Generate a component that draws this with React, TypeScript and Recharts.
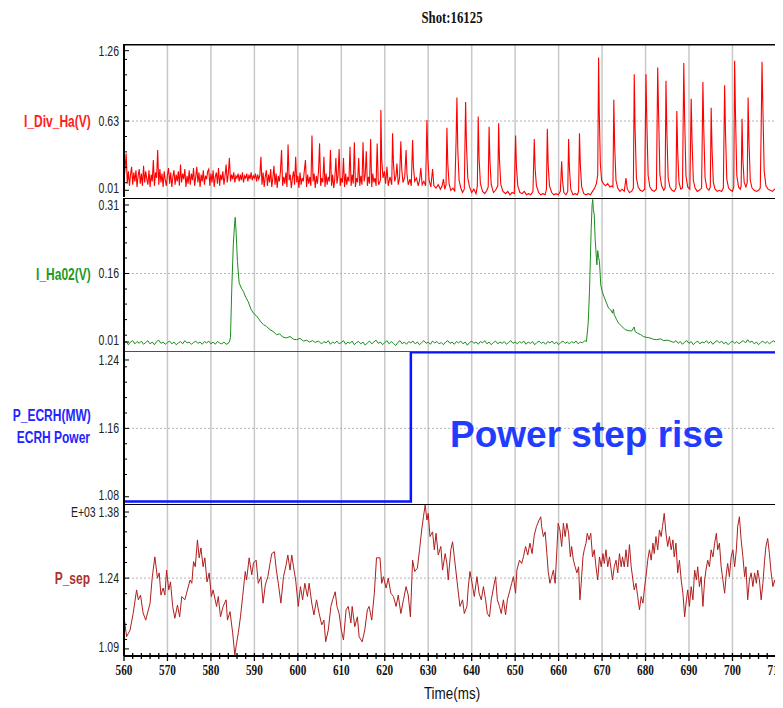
import React from 'react';
import { LineChart, Line, XAxis, YAxis, ReferenceLine } from 'recharts';

// ---------- data ----------
const xMajorTicks = [560, 570, 580, 590, 600, 610, 620, 630, 640, 650, 660, 670, 680, 690, 700, 710];

// I_Div_Ha(V): dense noisy band sampled every 0.25 ms from 560 to 618.5 ms
const divHaNoise = [
  0.10, 0.21, 0.34, 0.07, 0.18, 0.05, 0.15, 0.22, 0.06, 0.17,
  0.09, 0.19, 0.04, 0.14, 0.20, 0.07, 0.16, 0.05, 0.23, 0.08,
  0.18, 0.11, 0.06, 0.19, 0.04, 0.15, 0.09, 0.28, 0.05, 0.17,
  0.12, 0.37, 0.06, 0.20, 0.08, 0.16, 0.04, 0.18, 0.10, 0.05,
  0.15, 0.21, 0.07, 0.17, 0.04, 0.13, 0.19, 0.06, 0.15, 0.09,
  0.18, 0.05, 0.24, 0.08, 0.16, 0.11, 0.20, 0.04, 0.14, 0.07,
  0.19, 0.06, 0.16, 0.10, 0.21, 0.05, 0.13, 0.22, 0.08, 0.17,
  0.04, 0.15, 0.09, 0.19, 0.06, 0.14, 0.11, 0.18, 0.20, 0.05,
  0.16, 0.08, 0.19, 0.04, 0.13, 0.17, 0.07, 0.21, 0.05, 0.15,
  0.10, 0.18, 0.06, 0.14, 0.24, 0.08, 0.16, 0.30, 0.09, 0.15,
  0.11, 0.17, 0.08, 0.14, 0.12, 0.16, 0.09, 0.15, 0.10, 0.17,
  0.08, 0.14, 0.12, 0.16, 0.09, 0.15, 0.11, 0.17, 0.10, 0.14,
  0.12, 0.16, 0.09, 0.15, 0.11, 0.14, 0.31, 0.06, 0.17, 0.04,
  0.13, 0.19, 0.05, 0.15, 0.08, 0.20, 0.04, 0.12, 0.23, 0.06,
  0.16, 0.03, 0.14, 0.09, 0.18, 0.37, 0.05, 0.13, 0.07, 0.17,
  0.04, 0.42, 0.10, 0.15, 0.03, 0.12, 0.18, 0.06, 0.31, 0.08,
  0.14, 0.03, 0.17, 0.06, 0.12, 0.09, 0.19, 0.28, 0.04, 0.15,
  0.07, 0.13, 0.05, 0.50, 0.09, 0.16, 0.03, 0.14, 0.07, 0.18,
  0.43, 0.05, 0.12, 0.08, 0.31, 0.04, 0.16, 0.06, 0.13, 0.09,
  0.37, 0.05, 0.15, 0.03, 0.11, 0.30, 0.07, 0.14, 0.38, 0.05,
  0.12, 0.08, 0.30, 0.04, 0.16, 0.06, 0.13, 0.09, 0.40, 0.05,
  0.15, 0.07, 0.44, 0.04, 0.12, 0.08, 0.30, 0.05, 0.14, 0.06,
  0.44, 0.09, 0.15, 0.36, 0.05, 0.13, 0.07, 0.47, 0.04, 0.16,
  0.08, 0.12, 0.05, 0.43, 0.09,
];

// I_Div_Ha(V): ELM spikes and baseline after 618.5 ms  [time, value]
const divHaTail: [number, number][] = [
  [618.6, 0.06], [619.0, 0.10], [619.1, 0.73], [619.3, 0.28], [619.6, 0.12], [619.9, 0.18], [620.2, 0.07], [620.5, 0.22],
  [620.8, 0.05], [621.2, 0.13], [621.6, 0.06], [621.8, 0.52], [622.0, 0.25], [622.3, 0.09], [622.6, 0.14], [622.8, 0.25],
  [623.1, 0.06], [623.4, 0.12], [623.7, 0.45], [623.9, 0.20], [624.2, 0.08], [624.6, 0.13], [624.9, 0.37], [625.1, 0.16],
  [625.4, 0.06], [625.8, 0.11], [626.1, 0.05], [626.4, 0.46], [626.6, 0.22], [626.9, 0.09], [627.3, 0.12], [627.7, 0.05],
  [628.0, 0.10], [628.3, 0.21], [628.6, 0.06], [629.0, 0.09], [629.4, 0.05], [629.7, 0.64], [629.9, 0.30], [630.2, 0.10],
  [630.6, 0.04], [631.0, 0.20], [631.3, 0.05], [631.8, 0.03], [632.3, 0.06], [632.8, 0.02], [633.2, 0.05], [633.5, 0.11],
  [633.8, 0.02], [634.1, 0.06], [634.3, 0.57], [634.5, 0.25], [634.8, 0.07], [635.2, 0.01], [635.7, 0.03], [636.1, 0.0],
  [636.4, 0.44], [636.6, 0.84], [636.8, 0.38], [637.1, 0.10], [637.5, 0.03], [637.9, -0.01], [638.3, 0.02], [638.6, 0.80],
  [638.8, 0.42], [639.1, 0.12], [639.5, 0.04], [640.0, -0.01], [640.5, 0.02], [641.0, -0.02], [641.3, 0.05], [641.5, 0.67],
  [641.7, 0.30], [642.0, 0.07], [642.5, 0.0], [643.0, -0.02], [643.5, 0.01], [643.8, 0.04], [644.0, 0.58], [644.2, 0.27],
  [644.5, 0.06], [645.0, -0.01], [645.5, 0.01], [646.0, 0.05], [646.2, 0.61], [646.4, 0.28], [646.7, 0.06], [647.2, 0.0],
  [647.8, -0.02], [648.3, 0.0], [648.8, -0.03], [649.3, -0.01], [649.8, -0.02], [650.1, 0.50], [650.3, 0.22], [650.6, 0.05],
  [651.1, -0.01], [651.6, -0.02], [652.1, 0.0], [652.6, -0.03], [653.1, -0.02], [653.6, -0.03], [654.1, 0.0], [654.4, 0.47],
  [654.6, 0.20], [654.9, 0.05], [655.4, -0.01], [655.9, -0.03], [656.4, -0.02], [656.9, -0.03], [657.2, 0.02], [657.4, 0.56],
  [657.6, 0.24], [657.9, 0.05], [658.4, -0.01], [658.9, -0.03], [659.4, -0.02], [659.9, -0.03], [660.4, 0.0], [660.7, 0.27],
  [660.9, 0.10], [661.2, -0.01], [661.7, -0.03], [662.1, 0.0], [662.3, 0.47], [662.5, 0.20], [662.8, 0.02], [663.3, -0.03],
  [663.8, -0.02], [664.3, -0.03], [664.6, 0.0], [664.8, 0.52], [665.0, 0.24], [665.3, 0.04], [665.8, -0.02], [666.3, -0.03],
  [666.8, -0.02], [667.3, -0.03], [667.8, 0.0], [668.3, 0.03], [668.7, 0.07], [669.0, 0.15], [669.2, 1.20], [669.35, 0.72],
  [669.6, 0.25], [669.9, 0.10], [670.3, 0.07], [670.8, 0.05], [671.3, 0.07], [671.8, 0.04], [672.2, 0.05], [672.5, 0.04],
  [672.7, 0.82], [672.9, 0.40], [673.2, 0.10], [673.6, 0.03], [674.1, 0.0], [674.6, 0.02], [675.1, 0.0], [675.5, 0.12],
  [675.8, 0.02], [676.3, -0.01], [676.8, 0.0], [677.2, 0.03], [677.4, 1.05], [677.6, 0.55], [677.9, 0.12], [678.3, 0.04],
  [678.8, 0.01], [679.3, 0.0], [679.8, 0.02], [680.1, 1.05], [680.3, 0.62], [680.6, 0.14], [681.0, 0.04], [681.5, 0.01],
  [682.0, 0.0], [682.5, 0.02], [682.8, 1.11], [683.0, 0.70], [683.3, 0.15], [683.7, 0.05], [684.2, 0.01], [684.5, 0.03],
  [684.7, 0.99], [684.9, 0.55], [685.2, 0.12], [685.6, 0.04], [686.1, 0.01], [686.6, 0.0], [687.0, 0.03], [687.2, 0.72],
  [687.4, 0.35], [687.7, 0.08], [688.1, 0.02], [688.5, 0.03], [688.8, 1.15], [689.0, 0.65], [689.3, 0.14], [689.7, 0.04],
  [690.2, 0.02], [690.5, 0.83], [690.7, 0.45], [691.0, 0.10], [691.4, 0.03], [691.9, 0.0], [692.4, 0.01], [692.9, 0.03],
  [693.2, 0.98], [693.4, 0.55], [693.7, 0.12], [694.1, 0.03], [694.6, 0.01], [694.9, 0.04], [695.1, 0.75], [695.3, 0.38],
  [695.6, 0.08], [696.0, 0.02], [696.5, 0.0], [697.0, 0.01], [697.5, 0.0], [697.9, 0.03], [698.2, 0.95], [698.4, 0.52],
  [698.7, 0.11], [699.1, 0.03], [699.6, 0.01], [700.0, 0.0], [700.3, 0.04], [700.5, 1.17], [700.7, 0.68], [701.0, 0.14],
  [701.4, 0.04], [701.8, 0.02], [702.0, 0.05], [702.2, 0.65], [702.4, 0.28], [702.7, 0.08], [703.1, 0.04], [703.4, 0.08],
  [703.6, 0.84], [703.8, 0.45], [704.1, 0.10], [704.5, 0.03], [705.0, 0.01], [705.5, 0.0], [706.0, 0.01], [706.4, 0.03],
  [706.6, 0.55], [706.8, 1.16], [707.0, 0.75], [707.3, 0.18], [707.7, 0.05], [708.2, 0.02], [708.7, 0.01], [709.2, 0.0],
  [709.7, 0.02], [710.2, 0.01], [710.6, 0.04], [710.8, 0.40], [711.0, 1.30], [711.2, 0.90], [711.5, 0.30], [711.8, 0.10],
  [712.3, 0.05], [713.0, 0.03], [714.0, 0.02],
];

// I_Ha02(V)  [time, value]
const ha02Series: [number, number][] = [
  [560, 0.006], [560.5, 0.012], [561, 0.004], [561.5, 0.010], [562, 0.013], [562.5, 0.006], [563, 0.011], [563.5, 0.007],
  [564, 0.012], [564.5, 0.005], [565, 0.009], [565.5, 0.013], [566, 0.006], [566.5, 0.010], [567, 0.004], [567.5, 0.011],
  [568, 0.014], [568.5, 0.007], [569, 0.010], [569.5, 0.005], [570, 0.009], [570.5, 0.012], [571, 0.006], [571.5, 0.010],
  [572, 0.004], [572.5, 0.008], [573, 0.011], [573.5, 0.006], [574, 0.013], [574.5, 0.008], [575, 0.010], [575.5, 0.005],
  [576, 0.009], [576.5, 0.012], [577, 0.007], [577.5, 0.010], [578, 0.005], [578.5, 0.011], [579, 0.008], [579.5, 0.012],
  [580, 0.006], [580.5, 0.010], [581, 0.005], [581.5, 0.011], [582, 0.008], [582.5, 0.006], [583, 0.010], [583.5, 0.005],
  [584, 0.007], [584.3, 0.012],
  [584.5, 0.02], [584.8, 0.128], [585.15, 0.223], [585.45, 0.27], [585.6, 0.283], [585.8, 0.25], [586.1, 0.186], [586.5, 0.139],
  [587.0, 0.128], [587.5, 0.12], [588.0, 0.108], [588.6, 0.098], [589.2, 0.082], [589.8, 0.073], [590.4, 0.068], [590.9, 0.062],
  [591.5, 0.054], [592.1, 0.048], [592.8, 0.044], [593.6, 0.037], [594.3, 0.033], [595.1, 0.026], [595.8, 0.028], [596.5, 0.021],
  [597.4, 0.019], [598.2, 0.022], [599.0, 0.016], [599.7, 0.015], [600.5, 0.018], [601.3, 0.012], [602, 0.014], [602.7, 0.010],
  [603.4, 0.013], [604, 0.009], [604.7, 0.012],
  [605.5, 0.006], [606, 0.011], [606.5, 0.008], [607, 0.013], [607.5, 0.005], [608, 0.010], [608.5, 0.007], [609, 0.012],
  [609.5, 0.006], [610, 0.009], [610.5, 0.013], [611, 0.005], [611.5, 0.010], [612, 0.007], [612.5, 0.012], [613, 0.004],
  [613.5, 0.009], [614, 0.011], [614.5, 0.006], [615, 0.010], [615.5, 0.003], [616, 0.008], [616.5, 0.012], [617, 0.006],
  [617.5, 0.010], [618, 0.014], [618.5, 0.007], [619, 0.010], [619.5, 0.004], [620, 0.009], [620.5, 0.013], [621, 0.006],
  [621.5, 0.011], [622, 0.007], [622.5, 0.002], [623, 0.009], [623.5, 0.013], [624, 0.006], [624.5, 0.010], [625, 0.005],
  [625.5, 0.011], [626, 0.008], [626.5, 0.012], [627, 0.006], [627.5, 0.010], [628, 0.004], [628.5, 0.009], [629, 0.013],
  [629.5, 0.007], [630, 0.010], [630.5, 0.005], [631, 0.012], [631.5, 0.008], [632, 0.011], [632.5, 0.006], [633, 0.009],
  [633.5, 0.004], [634, 0.010], [634.5, 0.013], [635, 0.007], [635.5, 0.010], [636, 0.005], [636.5, 0.011], [637, 0.008],
  [637.5, 0.012], [638, 0.006], [638.5, 0.010], [639, 0.003], [639.5, 0.009], [640, 0.012], [640.5, 0.007], [641, 0.010],
  [641.5, 0.005], [642, 0.011], [642.5, 0.008], [643, 0.013], [643.5, 0.006], [644, 0.010], [644.5, 0.004], [645, 0.009],
  [645.5, 0.012], [646, 0.006], [646.5, 0.010], [647, 0.007], [647.5, 0.011], [648, 0.005], [648.5, 0.009], [649, 0.013],
  [649.5, 0.007], [650, 0.010], [650.5, 0.006], [651, 0.011], [651.5, 0.008], [652, 0.012], [652.5, 0.005], [653, 0.010],
  [653.5, 0.007], [654, 0.011], [654.5, 0.004], [655, 0.009], [655.5, 0.012], [656, 0.007], [656.5, 0.010], [657, 0.005],
  [657.5, 0.011], [658, 0.008], [658.5, 0.012], [659, 0.006], [659.5, 0.010], [660, 0.004], [660.5, 0.009], [661, 0.012],
  [661.5, 0.007], [662, 0.010], [662.5, 0.006], [663, 0.011], [663.5, 0.008], [664, 0.012], [664.5, 0.006], [665, 0.010],
  [665.5, 0.008], [666, 0.013], [666.4, 0.011],
  [666.8, 0.05], [667.1, 0.12], [667.3, 0.19], [667.5, 0.259], [667.7, 0.31], [667.85, 0.322], [668.0, 0.30], [668.2, 0.288],
  [668.4, 0.237], [668.8, 0.179], [669.0, 0.21], [669.2, 0.195], [669.4, 0.186], [669.7, 0.135], [670.0, 0.122], [670.3, 0.113],
  [670.9, 0.098], [671.5, 0.084], [672.0, 0.080], [672.4, 0.073], [672.6, 0.082], [672.8, 0.070], [673.3, 0.060], [673.8, 0.051],
  [674.5, 0.045], [675.3, 0.037], [676.0, 0.035], [676.8, 0.034], [677.4, 0.043], [677.6, 0.033], [678.2, 0.029], [678.9, 0.026],
  [679.5, 0.022], [680.3, 0.020], [681.0, 0.019], [681.8, 0.016], [682.6, 0.015], [683.4, 0.017], [684.2, 0.013], [685.0, 0.014],
  [685.7, 0.012],
  [686.5, 0.009], [687, 0.013], [687.5, 0.007], [688, 0.011], [688.5, 0.005], [689, 0.010], [689.5, 0.013], [690, 0.007],
  [690.5, 0.011], [691, 0.004], [691.5, 0.009], [692, 0.012], [692.5, 0.006], [693, 0.010], [693.5, 0.008], [694, 0.013],
  [694.5, 0.007], [695, 0.011], [695.5, 0.005], [696, 0.010], [696.5, 0.013], [697, 0.008], [697.5, 0.012], [698, 0.006],
  [698.5, 0.010], [699, 0.004], [699.5, 0.009], [700, 0.012], [700.5, 0.007], [701, 0.011], [701.5, 0.006], [702, 0.010],
  [702.5, 0.013], [703, 0.008], [703.5, 0.015], [704, 0.009], [704.5, 0.012], [705, 0.006], [705.5, 0.010], [706, 0.004],
  [706.5, 0.009], [707, 0.012], [707.5, 0.007], [708, 0.011], [708.5, 0.006], [709, 0.010], [709.5, 0.013], [710, 0.007],
  [710.5, 0.011], [711, 0.008], [711.5, 0.013], [712, 0.009], [713, 0.011], [714, 0.008],
];

// P_ECRH(MW)  [time, value]
const ecrhSeries: [number, number][] = [
  [560, 1.0745], [626.0, 1.0745], [626.0, 1.249], [716, 1.249],
];

// P_sep (E+03)  [time, value]
const psepSeries: [number, number][] = [
  [560, 1.158], [560.6, 1.116], [561.4, 1.130], [562.1, 1.165], [562.9, 1.215], [563.3, 1.194], [563.8, 1.204], [564.4, 1.166],
  [565.0, 1.151], [566.0, 1.187], [566.5, 1.242], [567.1, 1.285], [567.7, 1.240], [568.1, 1.251], [568.5, 1.204], [569.0, 1.219],
  [569.4, 1.204], [569.8, 1.257], [570.3, 1.215], [570.7, 1.232], [571.2, 1.180], [571.7, 1.155], [572.3, 1.183], [572.8, 1.158],
  [573.3, 1.201], [574.0, 1.194], [574.4, 1.208], [575.2, 1.236], [575.6, 1.229], [576.0, 1.275], [576.4, 1.264], [576.9, 1.321],
  [577.3, 1.283], [577.7, 1.304], [578.2, 1.264], [578.6, 1.283], [579.1, 1.232], [579.6, 1.251], [580.1, 1.201], [580.5, 1.215],
  [581.3, 1.180], [581.7, 1.201], [582.2, 1.158], [582.8, 1.180], [583.5, 1.194], [583.8, 1.151], [584.4, 1.169], [585.0, 1.124],
  [585.5, 1.077], [585.9, 1.102], [586.3, 1.124], [586.8, 1.158], [587.3, 1.201], [587.9, 1.254], [588.2, 1.236], [588.8, 1.283],
  [589.4, 1.247], [589.8, 1.272], [590.4, 1.278], [590.9, 1.229], [591.5, 1.243], [592.0, 1.187], [592.5, 1.225], [593.1, 1.243],
  [593.6, 1.271], [594.0, 1.292], [594.6, 1.296], [595.0, 1.261], [595.5, 1.229], [596.1, 1.187], [596.7, 1.243], [597.3, 1.268],
  [597.7, 1.289], [598.2, 1.257], [598.6, 1.289], [599.0, 1.264], [599.5, 1.236], [600.1, 1.180], [600.6, 1.222], [601.1, 1.194],
  [601.6, 1.229], [602.2, 1.201], [602.6, 1.229], [603.2, 1.187], [603.7, 1.162], [604.3, 1.194], [604.9, 1.165], [605.5, 1.141],
  [606.0, 1.151], [606.4, 1.105], [607.0, 1.130], [607.6, 1.180], [608.0, 1.194], [608.6, 1.211], [609.0, 1.180], [609.5, 1.165],
  [610.0, 1.130], [610.5, 1.109], [611.1, 1.173], [611.6, 1.180], [612.2, 1.145], [612.5, 1.180], [613.1, 1.137], [613.7, 1.158],
  [614.1, 1.116], [614.8, 1.105], [615.4, 1.130], [616.0, 1.173], [616.4, 1.180], [617.0, 1.151], [617.6, 1.208], [618.1, 1.283],
  [618.9, 1.283], [619.3, 1.229], [619.7, 1.243], [620.3, 1.219], [620.8, 1.240], [621.4, 1.208], [622.0, 1.201], [622.6, 1.180],
  [623.1, 1.204], [623.7, 1.165], [624.3, 1.194], [624.9, 1.222], [625.4, 1.204], [625.9, 1.158], [626.4, 1.278], [626.9, 1.254],
  [627.5, 1.261], [628.0, 1.300], [628.5, 1.342], [628.9, 1.370], [629.3, 1.395], [629.7, 1.363], [630.0, 1.377], [630.4, 1.328],
  [631.0, 1.338], [631.4, 1.300], [631.8, 1.335], [632.3, 1.289], [632.9, 1.307], [633.3, 1.257], [633.9, 1.292], [634.3, 1.271],
  [634.6, 1.236], [635.2, 1.300], [635.6, 1.317], [636.0, 1.285], [636.6, 1.236], [636.8, 1.219], [637.3, 1.180], [637.9, 1.194],
  [638.3, 1.165], [638.9, 1.180], [639.2, 1.219], [639.6, 1.254], [640.1, 1.229], [640.6, 1.201], [641.2, 1.243], [641.7, 1.208],
  [642.2, 1.194], [642.7, 1.222], [643.2, 1.194], [643.6, 1.165], [644.1, 1.158], [644.5, 1.194], [645.0, 1.219], [645.5, 1.243],
  [645.9, 1.194], [646.4, 1.180], [646.8, 1.165], [647.3, 1.194], [647.8, 1.162], [648.2, 1.194], [648.7, 1.211], [649.2, 1.229],
  [649.6, 1.243], [650.1, 1.208], [650.4, 1.257], [651.0, 1.278], [651.5, 1.271], [651.9, 1.285], [652.4, 1.307], [652.9, 1.289],
  [653.4, 1.314], [653.9, 1.292], [654.4, 1.331], [654.9, 1.349], [655.5, 1.363], [655.9, 1.370], [656.1, 1.349], [656.5, 1.328],
  [656.9, 1.338], [657.3, 1.292], [657.6, 1.254], [658.0, 1.229], [658.4, 1.243], [658.8, 1.257], [659.2, 1.229], [659.6, 1.300],
  [659.9, 1.356], [660.3, 1.342], [660.7, 1.307], [661.1, 1.356], [661.5, 1.328], [661.9, 1.356], [662.3, 1.335], [662.7, 1.285],
  [663.0, 1.307], [663.4, 1.278], [663.8, 1.264], [664.2, 1.251], [664.6, 1.264], [664.9, 1.194], [665.2, 1.229], [665.6, 1.285],
  [665.9, 1.300], [666.3, 1.314], [666.6, 1.335], [667.0, 1.321], [667.4, 1.335], [667.8, 1.285], [668.2, 1.300], [668.6, 1.264],
  [669.0, 1.236], [669.4, 1.285], [669.8, 1.264], [670.2, 1.292], [670.5, 1.271], [670.9, 1.300], [671.3, 1.264], [671.7, 1.285],
  [672.1, 1.257], [672.4, 1.236], [672.8, 1.264], [673.2, 1.278], [673.6, 1.251], [674.0, 1.292], [674.4, 1.264], [674.7, 1.285],
  [675.1, 1.264], [675.5, 1.300], [675.9, 1.264], [676.3, 1.311], [676.7, 1.264], [677.1, 1.236], [677.4, 1.215], [677.8, 1.229],
  [678.2, 1.201], [678.6, 1.173], [679.0, 1.201], [679.4, 1.187], [679.8, 1.222], [680.2, 1.251], [680.5, 1.278], [680.9, 1.300],
  [681.3, 1.278], [681.7, 1.314], [682.0, 1.292], [682.4, 1.328], [682.8, 1.300], [683.2, 1.342], [683.6, 1.328], [683.9, 1.349],
  [684.3, 1.377], [684.7, 1.335], [685.1, 1.307], [685.5, 1.328], [685.9, 1.300], [686.3, 1.321], [686.6, 1.285], [687.0, 1.314],
  [687.4, 1.251], [687.8, 1.278], [688.2, 1.236], [688.6, 1.208], [689.0, 1.158], [689.4, 1.194], [689.7, 1.215], [690.1, 1.180],
  [690.5, 1.222], [690.9, 1.194], [691.3, 1.257], [691.7, 1.236], [692.0, 1.264], [692.4, 1.222], [692.8, 1.243], [693.2, 1.180],
  [693.6, 1.236], [693.9, 1.257], [694.3, 1.278], [694.7, 1.264], [695.1, 1.300], [695.5, 1.285], [695.9, 1.314], [696.3, 1.335],
  [696.6, 1.300], [697.0, 1.314], [697.4, 1.264], [697.8, 1.236], [698.2, 1.208], [698.6, 1.251], [698.9, 1.271], [699.3, 1.243],
  [699.7, 1.285], [700.1, 1.300], [700.5, 1.264], [700.9, 1.300], [701.2, 1.349], [701.6, 1.370], [702.0, 1.321], [702.4, 1.285],
  [702.8, 1.243], [703.1, 1.264], [703.5, 1.194], [703.9, 1.236], [704.3, 1.251], [704.7, 1.222], [705.1, 1.251], [705.5, 1.229],
  [705.8, 1.257], [706.2, 1.236], [706.6, 1.194], [707.0, 1.229], [707.4, 1.278], [707.7, 1.307], [708.1, 1.324], [708.5, 1.292],
  [708.9, 1.251], [709.3, 1.222], [709.7, 1.236], [710.0, 1.222], [710.4, 1.243], [710.8, 1.229], [711.2, 1.278], [711.6, 1.300],
  [712.2, 1.280], [713.0, 1.260],
];

// axis tick values
const divHaMajor = [0.01, 0.63, 1.26];
const divHaLabels = ['0.01', '0.63', '1.26'];
const divHaMinor = [0.078, 0.216, 0.354, 0.492, 0.768, 0.906, 1.044, 1.182];
const ha02Major = [0.01, 0.16, 0.31];
const ha02Labels = ['0.01', '0.16', '0.31'];
const ha02Minor = [0.025, 0.059, 0.093, 0.126, 0.194, 0.227, 0.261, 0.295];
const ecrhMajor = [1.08, 1.16, 1.24];
const ecrhLabels = ['1.08', '1.16', '1.24'];
const ecrhMinor = [1.106, 1.124, 1.142, 1.178, 1.196, 1.214, 1.232];
const psepMajor = [1.09, 1.24, 1.38];
const psepLabels = ['1.09', '1.24', 'E+03 1.38'];
const psepMinor = [1.110, 1.142, 1.175, 1.207, 1.273, 1.305, 1.338, 1.370];

// ---------- helpers ----------
const X_DOMAIN: [number, number] = [560, 716];
const CHART_W = 800;
const AXIS_W = 116;
const SANS = 'Liberation Sans, Arial, Helvetica, sans-serif';
const SERIF = 'Liberation Serif, Times New Roman, serif';

const xAllTicks: number[] = [];
for (let t = 560; t <= 714; t += 2) xAllTicks.push(t);

const toRows = (arr: [number, number][]) => arr.map(([t, v]) => ({ t, v }));

const divHaData = [
  ...divHaNoise.map((v, i) => ({ t: 560 + i * 0.25, v })),
  ...toRows(divHaTail),
];
const ha02Data = toRows(ha02Series);
const ecrhData = toRows(ecrhSeries);
const psepData = toRows(psepSeries);

function makeYTick(majors: number[], labels: string[]) {
  return (props: any) => {
    const { x, y, payload } = props;
    const idx = majors.indexOf(payload.value);
    if (idx < 0) {
      return <line x1={x} x2={x + 3} y1={y} y2={y} stroke="#000" strokeWidth={1} />;
    }
    const dy = idx === 0 ? 3 : 5;
    return (
      <g>
        <line x1={x} x2={x + 5} y1={y} y2={y} stroke="#000" strokeWidth={1} />
        <text
          transform={`translate(${x - 5},${y + dy}) scale(0.75,1)`}
          textAnchor="end"
          fontSize={14}
          fill="#222"
          fontFamily={SANS}
        >
          {labels[idx]}
        </text>
      </g>
    );
  };
}

const XTick = (props: any) => {
  const { x, y, payload } = props;
  const v = payload.value as number;
  const major = v % 10 === 0;
  return (
    <g>
      <line x1={x} x2={x} y1={y - 3} y2={y + (major ? 5 : 3)} stroke="#000" strokeWidth={1.3} />
      {major && (
        <text
          transform={`translate(${x},${y + 19}) scale(0.75,1)`}
          textAnchor="middle"
          fontSize={15}
          fontWeight="bold"
          fill="#111"
          fontFamily={SERIF}
        >
          {v}
        </text>
      )}
    </g>
  );
};

type PanelProps = {
  data: { t: number; v: number }[];
  color: string;
  lineWidth: number;
  domain: [number, number];
  majors: number[];
  labels: string[];
  minors: number[];
  top: number;
  plotH: number;
  showX?: boolean;
  borderColor: string;
  borderWidth: number;
};

function Panel(p: PanelProps) {
  const ticks = [...p.majors, ...p.minors].sort((a, b) => a - b);
  const h = p.plotH + (p.showX ? 52 : 0);
  return (
    <div style={{ position: 'absolute', left: 0, top: p.top }}>
      <LineChart
        width={CHART_W}
        height={h}
        data={p.data}
        margin={{ top: 0, right: 6, bottom: 0, left: 0 }}
        style={{ overflow: 'visible' }}
      >
        <XAxis
          dataKey="t"
          type="number"
          domain={X_DOMAIN}
          allowDataOverflow
          hide={!p.showX}
          ticks={p.showX ? xAllTicks : xMajorTicks}
          interval={0}
          tickSize={0}
          tickMargin={0}
          tickLine={false}
          tick={p.showX ? XTick : false}
          height={p.showX ? 52 : 0}
          axisLine={{ stroke: '#000', strokeWidth: 2 }}
        />
        <YAxis
          type="number"
          domain={p.domain}
          allowDataOverflow
          width={AXIS_W}
          ticks={ticks}
          interval={0}
          tickSize={0}
          tickMargin={0}
          tickLine={false}
          tick={makeYTick(p.majors, p.labels)}
          axisLine={{ stroke: '#000', strokeWidth: 2 }}
        />
        {xMajorTicks.slice(1).map((t) => (
          <ReferenceLine key={t} x={t} stroke="#c8c8c8" strokeWidth={1.5} />
        ))}
        <ReferenceLine y={p.majors[1]} stroke="#b4b4b4" strokeWidth={1} strokeDasharray="2 2" />
        <Line
          type="linear"
          dataKey="v"
          stroke={p.color}
          strokeWidth={p.lineWidth}
          dot={false}
          activeDot={false}
          isAnimationActive={false}
        />
        <ReferenceLine y={p.domain[1]} stroke={p.borderColor} strokeWidth={p.borderWidth} />
      </LineChart>
    </div>
  );
}

function Label({ x, y, text, color, bold = true, size = 16, sx = 0.75, anchor = 'end', family = SANS }: any) {
  return (
    <text
      transform={`translate(${x},${y}) scale(${sx},1)`}
      textAnchor={anchor}
      fontSize={size}
      fontWeight={bold ? 'bold' : 'normal'}
      fill={color}
      fontFamily={family}
    >
      {text}
    </text>
  );
}

export default function App() {
  return (
    <div style={{ position: 'relative', width: 775, height: 700, overflow: 'hidden', background: '#fff' }}>
      <Panel
        data={divHaData}
        color="#ff0000"
        lineWidth={1.1}
        domain={[-0.05, 1.32]}
        majors={divHaMajor}
        labels={divHaLabels}
        minors={divHaMinor}
        top={36}
        plotH={153}
        borderColor="#000"
        borderWidth={3}
      />
      <Panel
        data={ha02Data}
        color="#1e8c1e"
        lineWidth={1}
        domain={[-0.0097, 0.3253]}
        majors={ha02Major}
        labels={ha02Labels}
        minors={ha02Minor}
        top={190}
        plotH={153}
        borderColor="#000"
        borderWidth={2}
      />
      <Panel
        data={ecrhData}
        color="#0a14ff"
        lineWidth={2.5}
        domain={[1.0715, 1.2505]}
        majors={ecrhMajor}
        labels={ecrhLabels}
        minors={ecrhMinor}
        top={343}
        plotH={153}
        borderColor="#505050"
        borderWidth={2}
      />
      <Panel
        data={psepData}
        color="#b01e1e"
        lineWidth={1}
        domain={[1.075, 1.397]}
        majors={psepMajor}
        labels={psepLabels}
        minors={psepMinor}
        top={496}
        plotH={152}
        showX
        borderColor="#000"
        borderWidth={2}
      />
      <svg
        width={775}
        height={700}
        style={{ position: 'absolute', left: 0, top: 0, pointerEvents: 'none' }}
      >
        <Label x={444} y={15} text="Shot:16125" color="#111" size={16} sx={0.8} anchor="middle" family={SERIF} />
        <Label x={82.7} y={118.5} text="I_Div_Ha(V)" color="#ff2020" />
        <Label x={82.7} y={272} text="I_Ha02(V)" color="#229a22" />
        <Label x={82.7} y={413} text="P_ECRH(MW)" color="#2424ff" />
        <Label x={82} y={435} text="ECRH Power" color="#2424ff" />
        <Label x={82} y={576} text="P_sep" color="#b03030" />
        <Label x={442} y={439.3} text="Power step rise" color="#1f3cff" size={37} sx={1} anchor="start" />
        <Label x={444} y={691} text="Time(ms)" color="#111" bold={false} size={16} sx={0.84} anchor="middle" />
      </svg>
    </div>
  );
}
